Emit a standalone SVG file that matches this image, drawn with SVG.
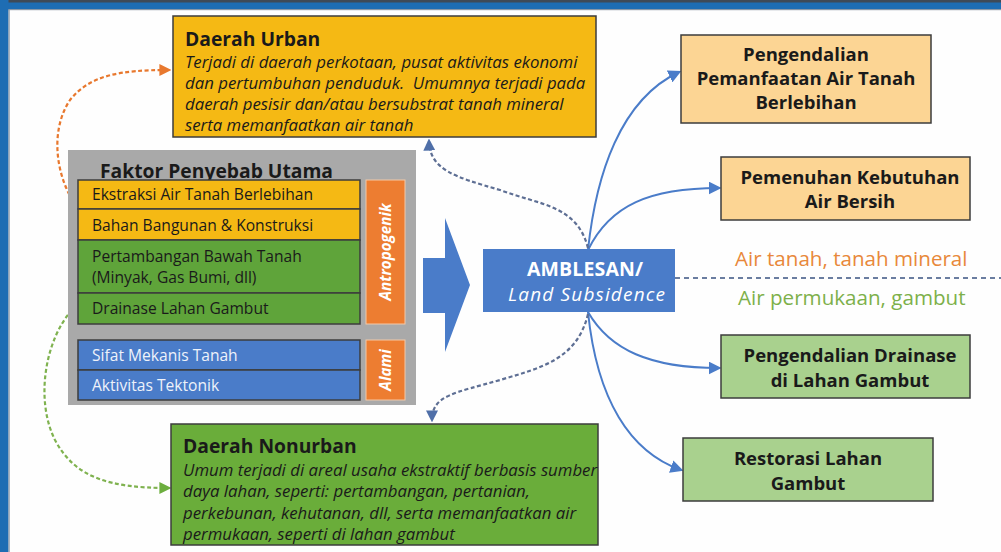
<svg xmlns="http://www.w3.org/2000/svg" width="1001" height="552" viewBox="0 0 1001 552">
<style>
text{font-family:"Open Sans","Liberation Sans",sans-serif;fill:#1a1a1a}
.box{stroke:#3c3c3c;stroke-width:1.5}
.title{font-weight:bold;font-size:19.3px}
.body{font-style:italic;font-size:16.8px}
.row{font-size:15.6px}
.wrow{font-size:15.6px;fill:#eef2fa}
.rb{font-weight:bold;font-size:18.5px;text-anchor:middle}
.vert{font-style:italic;font-weight:bold;font-size:15.2px;fill:#fff;text-anchor:middle}
.lbl{font-size:20.6px}
.sol{fill:none;stroke:#4a7cc9;stroke-width:2}
.dsh{fill:none;stroke:#5e6f94;stroke-width:2.2;stroke-dasharray:4 2.5}
</style>
<defs>
<marker id="ag" viewBox="0 0 10 10" refX="8" refY="5" markerWidth="12" markerHeight="12" orient="auto" markerUnits="userSpaceOnUse"><path d="M0,0 L10,5 L0,10 z" fill="#4f6fa8"/></marker>
<marker id="ao" viewBox="0 0 10 10" refX="8" refY="5" markerWidth="12" markerHeight="12" orient="auto" markerUnits="userSpaceOnUse"><path d="M0,0 L10,5 L0,10 z" fill="#e8782e"/></marker>
<marker id="agr" viewBox="0 0 10 10" refX="8" refY="5" markerWidth="12" markerHeight="12" orient="auto" markerUnits="userSpaceOnUse"><path d="M0,0 L10,5 L0,10 z" fill="#6cae3e"/></marker>
<marker id="abl" viewBox="0 0 10 10" refX="8" refY="5" markerWidth="13" markerHeight="13" orient="auto" markerUnits="userSpaceOnUse"><path d="M0,0 L10,5 L0,10 z" fill="#4a7cc9"/></marker>
</defs>
<rect width="1001" height="552" fill="#fefefe"/>
<rect x="0" y="0" width="1001" height="9" fill="#1e6db3"/>
<rect x="0" y="0" width="1001" height="2.5" fill="#3f4a57"/>
<rect x="0" y="9" width="1001" height="1.2" fill="#8a97a6"/>
<rect x="0" y="0" width="8.5" height="552" fill="#1e6db3"/>
<rect x="8.5" y="9" width="1.2" height="543" fill="#8a97a6"/>

<g id="connectors">
<path class="sol" d="M588,250 C596,175 620,100 679,72" marker-end="url(#abl)"/>
<path class="sol" d="M588,250 C610,205 650,188 719,188" marker-end="url(#abl)"/>
<path class="sol" d="M588,312 C610,350 650,368 719,368" marker-end="url(#abl)"/>
<path class="sol" d="M588,312 C597,400 630,452 681,470" marker-end="url(#abl)"/>
<path class="dsh" d="M588,248 C577,205 540,205 500,190 C455,177 430,170 429,141" marker-end="url(#ag)"/>
<path class="dsh" d="M588,314 C577,360 540,368 500,380 C455,393 432,395 432,420" marker-end="url(#ag)"/>
<path d="M675,278 L1001,278" fill="none" stroke="#6a7da0" stroke-width="2" stroke-dasharray="5 4"/>
<path d="M76,206 C55,175 50,130 70,100 C90,75 120,70 169,70" fill="none" stroke="#e8782e" stroke-width="2.2" stroke-dasharray="4 2.5" marker-end="url(#ao)"/>
<path d="M72,310 C45,340 35,400 55,440 C75,478 110,488 169,488" fill="none" stroke="#7fb24f" stroke-width="2.2" stroke-dasharray="4 2.5" marker-end="url(#agr)"/>
<path d="M423,258 L445,258 L445,218 L470,285 L445,352 L445,313 L423,313 Z" fill="#4a7cc9"/>
</g>

<g id="urban">
<rect class="box" x="173" y="16" width="423" height="121" fill="#f5b914"/>
<text class="title" x="185" y="46">Daerah Urban</text>
<text class="body" x="185" y="68">Terjadi di daerah perkotaan, pusat aktivitas ekonomi</text>
<text class="body" x="185" y="89" xml:space="preserve">dan pertumbuhan penduduk.  Umumnya terjadi pada</text>
<text class="body" x="185" y="110">daerah pesisir dan/atau bersubstrat tanah mineral</text>
<text class="body" x="185" y="131">serta memanfaatkan air tanah</text>
</g>

<g id="faktor">
<rect x="68" y="150" width="348" height="255" fill="#a9a9a9"/>
<text class="title" x="100" y="178">Faktor Penyebab Utama</text>
<rect class="box" x="78" y="180" width="282" height="29" fill="#f5b914"/>
<text class="row" x="92" y="200">Ekstraksi Air Tanah Berlebihan</text>
<rect class="box" x="78" y="209" width="282" height="31" fill="#f5b914"/>
<text class="row" x="92" y="231">Bahan Bangunan &amp; Konstruksi</text>
<rect class="box" x="78" y="240" width="282" height="53" fill="#5fa43a"/>
<text class="row" x="92" y="262">Pertambangan Bawah Tanah</text>
<text class="row" x="92" y="283">(Minyak, Gas Bumi, dll)</text>
<rect class="box" x="78" y="293" width="282" height="31" fill="#5fa43a"/>
<text class="row" x="92" y="314">Drainase Lahan Gambut</text>
<rect class="box" x="78" y="340" width="282" height="30" fill="#4a7cc9"/>
<text class="wrow" x="92" y="361">Sifat Mekanis Tanah</text>
<rect class="box" x="78" y="370" width="282" height="30" fill="#4a7cc9"/>
<text class="wrow" x="92" y="391">Aktivitas Tektonik</text>
<rect x="366" y="180" width="39" height="144" fill="#ed7d31" stroke="#f3c9a8" stroke-width="1"/>
<text class="vert" transform="translate(391,252) rotate(-90)">Antropogenik</text>
<rect x="366" y="340" width="39" height="60" fill="#ed7d31" stroke="#f3c9a8" stroke-width="1"/>
<text class="vert" transform="translate(391,370) rotate(-90)">Alami</text>
</g>

<g id="amblesan">
<rect x="483" y="249" width="192" height="63" fill="#4a7cc9"/>
<text x="585" y="276" text-anchor="middle" font-weight="bold" font-size="19.5" textLength="116" style="fill:#fff">AMBLESAN/</text>
<text x="586.5" y="301" text-anchor="middle" font-style="italic" font-size="19" textLength="157" style="fill:#fff">Land Subsidence</text>
</g>

<g id="labels">
<text class="lbl" x="735" y="266" style="fill:#e8883a">Air tanah, tanah mineral</text>
<text class="lbl" x="738" y="305" style="fill:#7db04a">Air permukaan, gambut</text>
</g>

<g id="r1">
<rect class="box" x="681" y="35" width="250" height="88" fill="#fcd594"/>
<text class="rb" x="806" y="61">Pengendalian</text>
<text class="rb" x="806" y="85">Pemanfaatan Air Tanah</text>
<text class="rb" x="806" y="109">Berlebihan</text>
</g>
<g id="r2">
<rect class="box" x="721" y="157" width="249" height="63" fill="#fcd594"/>
<text class="rb" x="850" y="184">Pemenuhan Kebutuhan</text>
<text class="rb" x="850" y="208">Air Bersih</text>
</g>
<g id="r3">
<rect class="box" x="721" y="335" width="249" height="63" fill="#a9d18e"/>
<text class="rb" x="850" y="362">Pengendalian Drainase</text>
<text class="rb" x="850" y="387">di Lahan Gambut</text>
</g>
<g id="r4">
<rect class="box" x="683" y="438" width="250" height="63" fill="#a9d18e"/>
<text class="rb" x="808" y="465">Restorasi Lahan</text>
<text class="rb" x="808" y="490">Gambut</text>
</g>

<g id="nonurban">
<rect class="box" x="171" y="424" width="427" height="121" fill="#6aad3a"/>
<text class="title" x="183" y="453">Daerah Nonurban</text>
<text class="body" x="183" y="476" font-size="16.1">Umum terjadi di areal usaha ekstraktif berbasis sumber</text>
<text class="body" x="183" y="497" font-size="16.1">daya lahan, seperti: pertambangan, pertanian,</text>
<text class="body" x="183" y="519" font-size="16.1">perkebunan, kehutanan, dll, serta memanfaatkan air</text>
<text class="body" x="183" y="540" font-size="16.1">permukaan, seperti di lahan gambut</text>
</g>
</svg>
